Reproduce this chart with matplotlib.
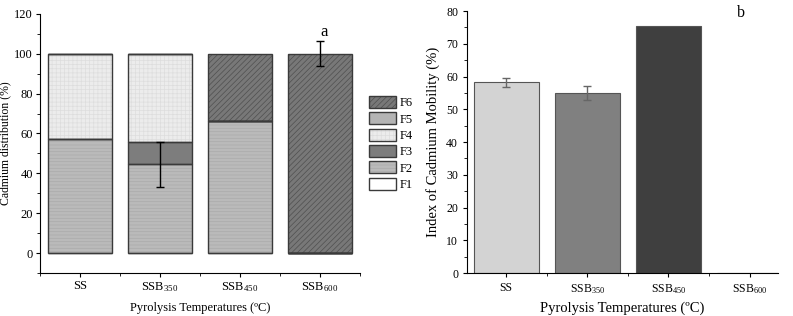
import matplotlib
matplotlib.use('Agg')
import matplotlib.pyplot as plt
from matplotlib.patches import Patch
from matplotlib.legend_handler import HandlerTuple
from matplotlib.ticker import MultipleLocator
import numpy as np

plt.rcParams['font.family'] = ['Liberation Serif', 'DejaVu Serif']
plt.rcParams['mathtext.default'] = 'regular'
plt.rcParams['hatch.linewidth'] = 0.5

samples = ['SS', 'SSB$_{350}$', 'SSB$_{450}$', 'SSB$_{600}$']

# fraction distribution (%) for panel a
fractions = ['F1', 'F2', 'F3', 'F4', 'F5', 'F6']
F1 = [0, 0, 0, 0]
F2 = [57.2, 44.5, 66.5, 0]
F3 = [0, 11.0, 0, 0]
F4 = [42.8, 44.5, 0, 0]
F5 = [0, 0, 0, 0]
F6 = [0, 0, 33.5, 100]
err_a = [0, 22.2, 0, 6.3]
err_a_top = [0, 55.5, 0, 100]

# panel b: index of mobility
mobility = [58.2, 55.0, 75.5, 0]
mobility_err = [1.3, 2.2, 0, 0]

styles = {
    'F1': dict(face='#ffffff', hatch=None, hcol='#ffffff'),
    'F2': dict(face='#bababa', hatch='-----', hcol='#ababab'),
    'F3': dict(face='#7d7d7d', hatch=None, hcol='#7d7d7d'),
    'F4': dict(face='#ececec', hatch='++++', hcol='#dddddd'),
    'F5': dict(face='#b4b4b4', hatch=None, hcol='#b4b4b4'),
    'F6': dict(face='#787878', hatch='//////', hcol='#4f4f4f'),
}
data = {'F1': F1, 'F2': F2, 'F3': F3, 'F4': F4, 'F5': F5, 'F6': F6}

fig = plt.figure(figsize=(7.93, 3.16), dpi=100)
ax1 = fig.add_axes([0.0504, 0.136, 0.4036, 0.82])
ax2 = fig.add_axes([0.589, 0.136, 0.392, 0.829])

x = np.arange(len(samples))
w = 0.8
bottom = np.zeros(len(samples))
for f in fractions:
    vals = np.array(data[f])
    st = styles[f]
    ax1.bar(x, vals, w, bottom=bottom, color=st['face'], hatch=st['hatch'],
            edgecolor=st['hcol'], linewidth=0, zorder=2)
    ax1.bar(x, vals, w, bottom=bottom, fill=False, edgecolor='#3a3a3a',
            linewidth=1.0, zorder=3)
    bottom += vals

for i in range(len(samples)):
    if err_a[i] > 0:
        ax1.errorbar(x[i], err_a_top[i], yerr=[[err_a[i]], [err_a[i] if i == 3 else 0]],
                     fmt='none', ecolor='black', elinewidth=1, capsize=3, zorder=4)

ax1.set_xlim(-0.5, 3.5)
ax1.set_ylim(-10, 120)
ax1.set_xticks(x)
ax1.set_xticklabels(samples, fontsize=8)
ax1.xaxis.set_minor_locator(MultipleLocator(0.5))
ax1.yaxis.set_major_locator(MultipleLocator(20))
ax1.yaxis.set_minor_locator(MultipleLocator(10))
ax1.tick_params(labelsize=9, length=3, pad=2)
ax1.tick_params(which='minor', length=2)
ax1.set_ylabel('Cadmium distribution (%)', fontsize=8.5, labelpad=2)
ax1.set_xlabel('Pyrolysis Temperatures (ºC)', fontsize=9, labelpad=6)
for s in ['top', 'right']:
    ax1.spines[s].set_visible(False)
ax1.text(3.05, 111, 'a', fontsize=12, ha='center', va='center')

handles = []
for f in fractions[::-1]:
    st = styles[f]
    fill = Patch(facecolor=st['face'], hatch=st['hatch'], edgecolor=st['hcol'], linewidth=0)
    edge = Patch(fill=False, edgecolor='#3a3a3a', linewidth=1)
    handles.append((fill, edge))
ax1.legend(handles, fractions[::-1], loc='center left', bbox_to_anchor=(1.0, 0.5),
           handler_map={tuple: HandlerTuple(ndivide=1)},
           frameon=False, fontsize=9, handlelength=2.2, handleheight=1.1,
           labelspacing=0.25, handletextpad=0.3, borderaxespad=0.3)

colors_b = ['#d3d3d3', '#808080', '#3f3f3f', '#ffffff']
ax2.bar(x, mobility, w, color=colors_b, edgecolor='#555555', linewidth=0.8, zorder=2)
ax2.errorbar(x[:2], mobility[:2], yerr=mobility_err[:2], fmt='none', ecolor='#666666',
             elinewidth=1, capsize=3, zorder=3)
ax2.set_xlim(-0.48, 3.35)
ax2.set_ylim(0, 80)
ax2.set_xticks(x)
ax2.set_xticklabels(samples, fontsize=8)
ax2.xaxis.set_minor_locator(MultipleLocator(0.5))
ax2.yaxis.set_major_locator(MultipleLocator(10))
ax2.yaxis.set_minor_locator(MultipleLocator(5))
ax2.tick_params(labelsize=8.5, length=3)
ax2.tick_params(which='minor', length=2)
ax2.set_ylabel('Index of Cadmium Mobility (%)', fontsize=10.5, labelpad=4)
ax2.set_xlabel('Pyrolysis Temperatures (ºC)', fontsize=10.5, labelpad=4)
for s in ['top', 'right']:
    ax2.spines[s].set_visible(False)
ax2.text(2.9, 79.5, 'b', fontsize=11.5, ha='center', va='center', clip_on=False)

fig.savefig('out.png', dpi=100)
